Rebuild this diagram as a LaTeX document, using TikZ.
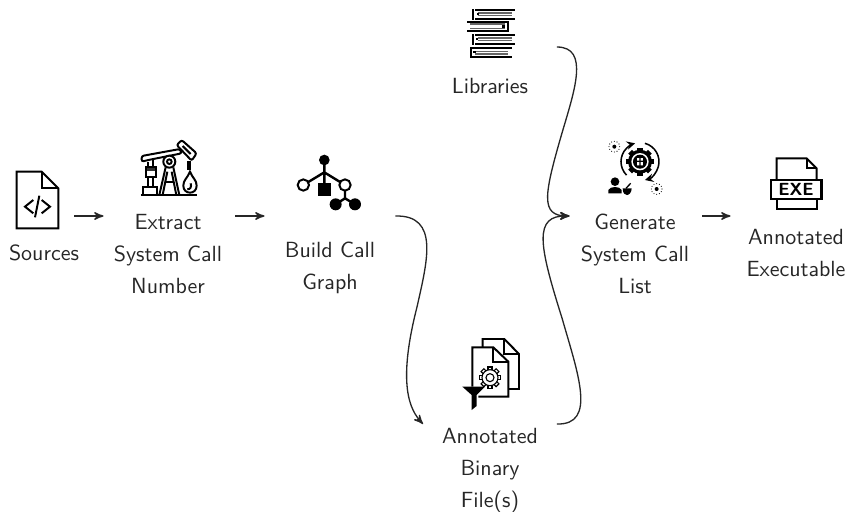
\documentclass[tikz,border=0pt]{standalone}
\usepackage{amsmath}
\usetikzlibrary{arrows}
\tikzset{stage/.append style={inner sep=0,minimum height=0.1cm}}
\tikzset{lbl/.append style={font=\sffamily,align=center,text=black!85,inner sep=0,text depth=0pt}}
\tikzset{flow/.append style={->,>=stealth',line width=0.6pt,black!85}}
\tikzset{icon/.append style={shift={#1},scale=0.3333,line width=0.9pt,line join=miter}}
\tikzset{fine/.append style={line width=0.55pt,black!60}}
\begin{document}
\begin{tikzpicture}[x=0.016cm,y=-0.016cm,baseline]
                \useasboundingbox (0,0) rectangle (848,511);
                % \SetUpStages
                \node[stage,minimum width=66*0.016cm] (sources) at (41,216) {};
                \node[stage,minimum width=131*0.016cm] (extract) at (169.5,216) {};
                \node[stage,minimum width=130*0.016cm] (build) at (330,216) {};
                \node[stage,minimum width=133*0.016cm] (libs) at (490,47) {};
                \node[stage,minimum width=133*0.016cm] (binary) at (490,424) {};
                \node[stage,minimum width=132*0.016cm] (generate) at (636,216) {};
                \node[stage,minimum width=130*0.016cm] (exe) at (796,216) {};
                \coordinate (buildmid) at (417,307);
                \coordinate (libsmid) at (562,133);
                \coordinate (binarymid) at (562,318);
                % \SetUpLabels
                \node[lbl] (lsources) at (44,253) {Sources};
                \node[lbl] (lextract) at (168,254) {Extract\\[2.5pt]System Call\\[2.5pt]Number};
                \node[lbl] (lbuild) at (330,266) {Build Call\\[2.5pt]Graph};
                \node[lbl] (llibs) at (490,86) {Libraries};
                \node[lbl] (lbinary) at (490,468) {Annotated\\[2.5pt]Binary\\[2.5pt]File(s)};
                \node[lbl] (lgenerate) at (635,254) {Generate\\[2.5pt]System Call\\[2.5pt]List};
                \node[lbl] (lexe) at (796,253) {Annotated\\[2.5pt]Executable};
                % \SetUpConnectors
                \draw[flow] (sources) -- (extract);
                \draw[flow] (extract) -- (build);
                \draw[flow] (generate) -- (exe);
                \draw[flow] (build.east) .. controls (440,215) and (427,262) .. (buildmid) .. controls (397,385) and (410,410) .. (binary.west);
                \draw[flow] (libs.east) .. controls (590,47) and (574,92) .. (libsmid) .. controls (544,195) and (540,216) .. (generate.west);
                \draw[flow] (binary.east) .. controls (597,425) and (578,374) .. (binarymid) .. controls (539,245) and (533,215) .. (generate.west);
                % sources
                \begin{scope}[icon={(0,130)}]
                    \draw (50,125) -- (125,125) -- (175,175) -- (175,295) -- (50,295) -- cycle;
                    \draw (125,125) -- (125,175) -- (175,175);
                    \draw (100,210) -- (75,230) -- (100,250);
                    \draw (118,197) -- (105,262);
                    \draw (125,210) -- (150,230) -- (125,250);
                \end{scope}
                % pump
                \begin{scope}[icon={(0,130)}]
                    \draw (423,195) -- (590,195);
                    \draw (428,195) rectangle (470,172);
                    \draw (443,172) -- (443,140) (460,172) -- (460,140);
                    \fill[black!80] (437,112) rectangle (467,122);
                    \draw (437,112) rectangle (467,140);
                    \draw (443,112) -- (443,95) (460,112) -- (460,90);
                    \draw[rounded corners=1pt] (425,95) -- (425,78) -- (540,57) -- (545,70) -- (445,90) -- cycle;
                    \draw[fill=white,rounded corners=1pt] (545,30) -- (590,70) -- (575,92) -- (530,45) -- cycle;
                    \draw (548,48) -- (572,72);
                    \draw (478,195) -- (497,112) (538,195) -- (520,112);
                    \draw (502,125) -- (488,195) (515,125) -- (529,195);
                    \draw (497,155) -- (522,155);
                    \draw[fill=white] (508,95) circle (18);
                    \draw (508,95) circle (7);
                    \draw[line width=1.5pt] (567,92) -- (567,120);
                    \draw (570,125) .. controls (562,145) and (550,150) .. (550,167) .. controls (550,195) and (590,195) .. (590,167) .. controls (590,150) and (578,145) .. (570,125) -- cycle;
                    \draw (572,160) .. controls (575,170) and (572,178) .. (562,178);
                \end{scope}
                % tree
                \begin{scope}[icon={(280,140)}]
                    \draw[line width=1.1pt] (133,60) -- (133,130) (70,135) -- (133,97) -- (195,135) -- (195,175) (167,193) -- (195,175) -- (225,193);
                    \fill (133,60) circle (16);
                    \draw[fill=white] (70,135) circle (17);
                    \draw[fill=white] (195,135) circle (17);
                    \fill (115,130) rectangle (152,167);
                    \fill (167,193) circle (18);
                    \fill (225,193) circle (18);
                \end{scope}
                % books
                \begin{scope}[icon={(440,0)}]
                    \foreach \ya/\xa/\xb/\xs/\xq in {30/105/225/100/113,105/105/225/100/110,145/97/215/92/103}{
                        \draw[line width=0.8pt] (\xa,\ya) -- (\xb,\ya) (\xa,\ya+27) -- (\xb,\ya+27);
                        \draw[line width=0.8pt] (\xs,\ya-3) -- (\xs,\ya+29);
                        \draw[fine] (\xa+8,\ya+9) -- (\xb-10,\ya+9) (\xa+8,\ya+17) -- (\xb-10,\ya+17);
                        \fill (\xq-3,\ya+9) rectangle (\xq+4,\ya+15);
                    }
                    \draw[line width=0.8pt] (82,65) -- (200,65) (82,93) -- (200,93);
                    \draw[line width=0.8pt] (205,63) -- (205,97);
                    \draw[fine] (90,72) -- (195,72) (90,85) -- (195,85);
                    \fill (187,76) rectangle (194,83);
                \end{scope}
                % generate
                \begin{scope}[icon={(590,130)}]
                    \foreach \ang in {0,45,...,315}{
                        \fill[rotate around={\ang:(150,95)}] (142,53) rectangle (158,66);
                    }
                    \fill (150,95) circle (36);
                    \fill[white] (150,95) circle (26);
                    \fill (150,95) circle (21);
                    \fill[white] (141,84) rectangle (148,92) (152,84) rectangle (159,92) (141,96) rectangle (148,106) (152,96) rectangle (159,106);
                    \draw[->,>=stealth,line width=0.7pt] (150,95) ++(135:57) arc (135:255:57);
                    \draw[->,>=stealth,line width=0.7pt] (150,95) ++(-75:57) arc (-75:75:57);
                    \foreach \cx/\cy in {73/50,200/177}{
                        \fill (\cx,\cy) circle (6);
                        \foreach \ang in {0,30,...,330}{
                            \fill (\cx,\cy) ++(\ang:16) circle (1.7);
                        }
                    }
                    \fill (75,155) circle (13);
                    \fill (55,190) -- (55,180) .. controls (60,168) and (90,168) .. (95,180) -- (95,190) -- cycle;
                    \fill (98,175) -- (125,175) .. controls (125,190) and (115,195) .. (111,195) .. controls (105,195) and (98,190) .. (98,175) -- cycle;
                    \draw[line width=0.6pt] (108,175) -- (122,160);
                \end{scope}
                % exe
                \begin{scope}[icon={(590,130)}]
                    \draw (560,150) -- (560,85) -- (650,85) -- (680,115) -- (680,150);
                    \draw (650,85) -- (650,115) -- (680,115);
                    \draw[line width=1.1pt] (543,150) rectangle (695,207);
                    \node[font=\sffamily\bfseries\footnotesize,inner sep=0] (exetag) at (618,178) {EXE};
                    \draw (560,207) -- (560,237) -- (680,237) -- (680,207);
                \end{scope}
                % binary
                \begin{scope}[icon={(440,330)}]
                    \draw (128,52) -- (128,27) -- (193,27) -- (237,72) -- (237,177) -- (205,177);
                    \draw (193,27) -- (193,72) -- (237,72);
                    \draw (115,200) -- (205,200) -- (205,95) -- (160,52) -- (97,52) -- (97,170);
                    \draw (160,52) -- (160,95) -- (205,95);
                    \foreach \ang in {0,45,...,315}{
                        \draw[line width=0.5pt,rotate around={\ang:(150,143)}] (144,111) rectangle (156,125);
                    }
                    \draw[fill=white,draw=none] (150,143) circle (24);
                    \draw[line width=0.5pt] (150,143) circle (24);
                    \draw[line width=0.5pt] (150,143) circle (12);
                    \fill (67,170) -- (135,170) -- (110,195) -- (110,228) -- (95,240) -- (95,195) -- cycle;
                \end{scope}
            \end{tikzpicture}
\end{document}
